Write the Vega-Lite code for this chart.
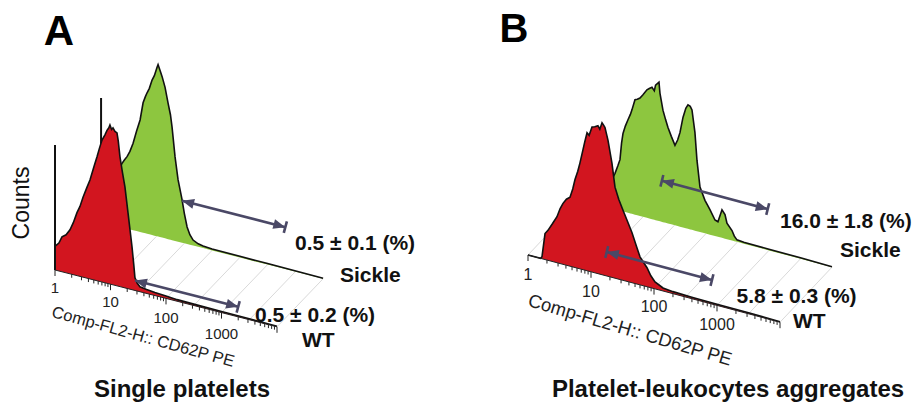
{
  "$schema": "https://vega.github.io/schema/vega-lite/v6.json",
  "padding": 0,
  "spacing": 0,
  "background": "white",
  "config": {"view": {"stroke": null}, "font": "Liberation Sans"},
  "hconcat": [
    {
      "width": 460,
      "height": 405,
      "data": {"values": [
        {"k":"grid","g":0,"L":0,"C":0,"d":0},{"k":"grid","g":0,"L":0,"C":0,"d":1},
        {"k":"grid","g":1,"L":0.5,"C":0,"d":0},{"k":"grid","g":1,"L":0.5,"C":0,"d":1},
        {"k":"grid","g":2,"L":1,"C":0,"d":0},{"k":"grid","g":2,"L":1,"C":0,"d":1},
        {"k":"grid","g":3,"L":1.5,"C":0,"d":0},{"k":"grid","g":3,"L":1.5,"C":0,"d":1},
        {"k":"grid","g":4,"L":2,"C":0,"d":0},{"k":"grid","g":4,"L":2,"C":0,"d":1},
        {"k":"grid","g":5,"L":2.5,"C":0,"d":0},{"k":"grid","g":5,"L":2.5,"C":0,"d":1},
        {"k":"grid","g":6,"L":3,"C":0,"d":0},{"k":"grid","g":6,"L":3,"C":0,"d":1},
        {"k":"grid","g":7,"L":3.5,"C":0,"d":0},{"k":"grid","g":7,"L":3.5,"C":0,"d":1},
        {"k":"grid","g":8,"L":4,"C":0,"d":0},{"k":"grid","g":8,"L":4,"C":0,"d":1},

        {"k":"sk","d":1,"L":0,"C":30},{"k":"sk","d":1,"L":0.15,"C":40},{"k":"sk","d":1,"L":0.3,"C":55},
        {"k":"sk","d":1,"L":0.378,"C":64},{"k":"sk","d":1,"L":0.42,"C":68},{"k":"sk","d":1,"L":0.468,"C":72},
        {"k":"sk","d":1,"L":0.52,"C":78},{"k":"sk","d":1,"L":0.577,"C":87},{"k":"sk","d":1,"L":0.64,"C":100},
        {"k":"sk","d":1,"L":0.703,"C":112},{"k":"sk","d":1,"L":0.757,"C":130},{"k":"sk","d":1,"L":0.8,"C":137},
        {"k":"sk","d":1,"L":0.829,"C":141},{"k":"sk","d":1,"L":0.87,"C":146},{"k":"sk","d":1,"L":0.919,"C":155},
        {"k":"sk","d":1,"L":0.96,"C":160},{"k":"sk","d":1,"L":1.009,"C":169},{"k":"sk","d":1,"L":1.027,"C":172},
        {"k":"sk","d":1,"L":1.06,"C":167},{"k":"sk","d":1,"L":1.1,"C":161},{"k":"sk","d":1,"L":1.153,"C":151},
        {"k":"sk","d":1,"L":1.207,"C":136},{"k":"sk","d":1,"L":1.25,"C":125},{"k":"sk","d":1,"L":1.279,"C":113},
        {"k":"sk","d":1,"L":1.333,"C":84},{"k":"sk","d":1,"L":1.387,"C":62},{"k":"sk","d":1,"L":1.459,"C":43},
        {"k":"sk","d":1,"L":1.5,"C":30},{"k":"sk","d":1,"L":1.55,"C":17},{"k":"sk","d":1,"L":1.6,"C":10},
        {"k":"sk","d":1,"L":1.658,"C":5.5},{"k":"sk","d":1,"L":1.75,"C":3},{"k":"sk","d":1,"L":1.838,"C":2},
        {"k":"sk","d":1,"L":2.0,"C":1.5},{"k":"sk","d":1,"L":2.5,"C":1.2},{"k":"sk","d":1,"L":3.0,"C":1},
        {"k":"sk","d":1,"L":4.0,"C":0.5},

        {"k":"yaxs","d":1,"L":0,"C":0,"C2":124},

        {"k":"wt","d":0,"L":0,"C":25},{"k":"wt","d":0,"L":0.02,"C":25},{"k":"wt","d":0,"L":0.07,"C":28},
        {"k":"wt","d":0,"L":0.126,"C":35},{"k":"wt","d":0,"L":0.2,"C":38},{"k":"wt","d":0,"L":0.27,"C":44},
        {"k":"wt","d":0,"L":0.33,"C":52},{"k":"wt","d":0,"L":0.396,"C":63},{"k":"wt","d":0,"L":0.45,"C":70},
        {"k":"wt","d":0,"L":0.505,"C":80},{"k":"wt","d":0,"L":0.57,"C":90},{"k":"wt","d":0,"L":0.63,"C":99},
        {"k":"wt","d":0,"L":0.7,"C":113},{"k":"wt","d":0,"L":0.757,"C":124},{"k":"wt","d":0,"L":0.8,"C":133},
        {"k":"wt","d":0,"L":0.847,"C":142},{"k":"wt","d":0,"L":0.9,"C":148},{"k":"wt","d":0,"L":0.937,"C":153},
        {"k":"wt","d":0,"L":0.97,"C":156},{"k":"wt","d":0,"L":0.99,"C":159},{"k":"wt","d":0,"L":1.02,"C":155},
        {"k":"wt","d":0,"L":1.045,"C":157},{"k":"wt","d":0,"L":1.08,"C":154},{"k":"wt","d":0,"L":1.117,"C":153},
        {"k":"wt","d":0,"L":1.14,"C":145},{"k":"wt","d":0,"L":1.17,"C":130},{"k":"wt","d":0,"L":1.215,"C":115},
        {"k":"wt","d":0,"L":1.26,"C":101},{"k":"wt","d":0,"L":1.315,"C":76},{"k":"wt","d":0,"L":1.35,"C":60},
        {"k":"wt","d":0,"L":1.387,"C":43},{"k":"wt","d":0,"L":1.42,"C":25},{"k":"wt","d":0,"L":1.44,"C":13},
        {"k":"wt","d":0,"L":1.48,"C":8},{"k":"wt","d":0,"L":1.53,"C":5},{"k":"wt","d":0,"L":1.65,"C":4},
        {"k":"wt","d":0,"L":1.8,"C":3},{"k":"wt","d":0,"L":2.0,"C":2.5},{"k":"wt","d":0,"L":2.2,"C":1.6},
        {"k":"wt","d":0,"L":2.6,"C":1.3},{"k":"wt","d":0,"L":3.0,"C":1.1},{"k":"wt","d":0,"L":3.5,"C":0.9},
        {"k":"wt","d":0,"L":4.0,"C":0.5},

        {"k":"yax","d":0,"L":0,"C":0,"C2":125},
        {"k":"floor","d":0,"L":0,"C":0},{"k":"floor","d":0,"L":4,"C":0},

        {"k":"tick","d":0,"L":0,"C":0,"C2":-6},{"k":"tick","d":0,"L":0.301,"C":0,"C2":-3.5},{"k":"tick","d":0,"L":0.477,"C":0,"C2":-3.5},
        {"k":"tick","d":0,"L":0.602,"C":0,"C2":-3.5},{"k":"tick","d":0,"L":0.699,"C":0,"C2":-3.5},{"k":"tick","d":0,"L":0.778,"C":0,"C2":-3.5},
        {"k":"tick","d":0,"L":0.845,"C":0,"C2":-3.5},{"k":"tick","d":0,"L":0.903,"C":0,"C2":-3.5},{"k":"tick","d":0,"L":0.954,"C":0,"C2":-3.5},
        {"k":"tick","d":0,"L":1,"C":0,"C2":-6},{"k":"tick","d":0,"L":1.301,"C":0,"C2":-3.5},{"k":"tick","d":0,"L":1.477,"C":0,"C2":-3.5},
        {"k":"tick","d":0,"L":1.602,"C":0,"C2":-3.5},{"k":"tick","d":0,"L":1.699,"C":0,"C2":-3.5},{"k":"tick","d":0,"L":1.778,"C":0,"C2":-3.5},
        {"k":"tick","d":0,"L":1.845,"C":0,"C2":-3.5},{"k":"tick","d":0,"L":1.903,"C":0,"C2":-3.5},{"k":"tick","d":0,"L":1.954,"C":0,"C2":-3.5},
        {"k":"tick","d":0,"L":2,"C":0,"C2":-6},{"k":"tick","d":0,"L":2.301,"C":0,"C2":-3.5},{"k":"tick","d":0,"L":2.477,"C":0,"C2":-3.5},
        {"k":"tick","d":0,"L":2.602,"C":0,"C2":-3.5},{"k":"tick","d":0,"L":2.699,"C":0,"C2":-3.5},{"k":"tick","d":0,"L":2.778,"C":0,"C2":-3.5},
        {"k":"tick","d":0,"L":2.845,"C":0,"C2":-3.5},{"k":"tick","d":0,"L":2.903,"C":0,"C2":-3.5},{"k":"tick","d":0,"L":2.954,"C":0,"C2":-3.5},
        {"k":"tick","d":0,"L":3,"C":0,"C2":-6},{"k":"tick","d":0,"L":3.301,"C":0,"C2":-3.5},{"k":"tick","d":0,"L":3.477,"C":0,"C2":-3.5},
        {"k":"tick","d":0,"L":3.602,"C":0,"C2":-3.5},{"k":"tick","d":0,"L":3.699,"C":0,"C2":-3.5},{"k":"tick","d":0,"L":3.778,"C":0,"C2":-3.5},
        {"k":"tick","d":0,"L":3.845,"C":0,"C2":-3.5},{"k":"tick","d":0,"L":3.903,"C":0,"C2":-3.5},{"k":"tick","d":0,"L":3.954,"C":0,"C2":-3.5},
        {"k":"tick","d":0,"L":4,"C":0,"C2":-6},

        {"k":"arr","a":"s","d":1,"L":1.46,"C":42},{"k":"arr","a":"s","d":1,"L":3.32,"C":42},
        {"k":"arr","a":"w","d":0,"L":1.44,"C":10},{"k":"arr","a":"w","d":0,"L":3.30,"C":10},
        {"k":"hl","d":1,"L":1.46,"C":42},{"k":"hr","d":1,"L":3.32,"C":42},{"k":"bar","d":1,"L":3.32,"C":42},
        {"k":"hl","d":0,"L":1.44,"C":10},{"k":"hr","d":0,"L":3.30,"C":10},{"k":"bar","d":0,"L":3.30,"C":10},

        {"k":"tl","d":0,"t":"1","L":0,"C":-18},{"k":"tl","d":0,"t":"10","L":1,"C":-18},
        {"k":"tl","d":0,"t":"100","L":2,"C":-20},{"k":"tl","d":0,"t":"1000","L":3,"C":-21},
        {"k":"ax","d":0,"t":"Comp-FL2-H:: CD62P PE","L":1.586,"C":-44.5},
        {"k":"cnt","d":0,"t":"Counts","L":-0.595,"C":58.6},
        {"k":"lab","d":0,"t":"0.5 ± 0.1 (%)","L":4.324,"C":81.4},
        {"k":"lab","d":0,"t":"Sickle","L":5.135,"C":60.9},
        {"k":"lab","d":0,"t":"0.5 ± 0.2 (%)","L":3.604,"C":-0.8},
        {"k":"lab","d":0,"t":"WT","L":4.45,"C":-13.8},
        {"k":"ttl","d":0,"t":"Single platelets","L":2.288,"C":-94.5},
        {"k":"pan","d":0,"t":"A","L":0.072,"C":226}
      ]},
      "transform": [
        {"calculate": "datum.L+0.83*datum.d", "as": "X"},
        {"calculate": "datum.C-14.2*datum.L+48*datum.d", "as": "Y"},
        {"calculate": "-14.2*datum.L+48*datum.d", "as": "Y0"},
        {"calculate": "datum.C2-14.2*datum.L+48*datum.d", "as": "Y2"}
      ],
      "encoding": {
        "x": {"field": "X", "type": "quantitative", "axis": null, "scale": {"domain": [-0.991, 7.297], "nice": false, "zero": false}},
        "y": {"field": "Y", "type": "quantitative", "axis": null, "scale": {"domain": [-135, 270], "nice": false, "zero": false}}
      },
      "layer": [
        {"transform": [{"filter": "datum.k=='grid'"}], "mark": {"type": "line", "color": "#d9d9d9", "strokeWidth": 1}, "encoding": {"detail": {"field": "g"}}},
        {"transform": [{"filter": "datum.k=='sk'"}], "mark": {"type": "area", "color": "#8dc63f", "opacity": 1, "fillOpacity": 1, "line": {"color": "#111111", "strokeWidth": 1.6}}, "encoding": {"y2": {"field": "Y0"}}},
        {"transform": [{"filter": "datum.k=='yaxs'"}], "mark": {"type": "rule", "color": "#111111", "strokeWidth": 2}, "encoding": {"y2": {"field": "Y2"}}},
        {"transform": [{"filter": "datum.k=='wt'"}], "mark": {"type": "area", "color": "#d2151f", "opacity": 1, "fillOpacity": 1, "line": {"color": "#111111", "strokeWidth": 1.6}}, "encoding": {"y2": {"field": "Y0"}}},
        {"transform": [{"filter": "datum.k=='yax'"}], "mark": {"type": "rule", "color": "#111111", "strokeWidth": 2}, "encoding": {"y2": {"field": "Y2"}}},
        {"transform": [{"filter": "datum.k=='floor'"}], "mark": {"type": "line", "color": "#222222", "strokeWidth": 1}, "encoding": {}},
        {"transform": [{"filter": "datum.k=='tick'"}], "mark": {"type": "rule", "color": "#222222", "strokeWidth": 1}, "encoding": {"y2": {"field": "Y2"}}},
        {"transform": [{"filter": "datum.k=='arr'"}], "mark": {"type": "line", "color": "#4a4866", "strokeWidth": 2.6}, "encoding": {"detail": {"field": "a"}}},
        {"transform": [{"filter": "datum.k=='hl'"}], "mark": {"type": "point", "shape": "M0,0L3,-1.25L3,1.25Z", "size": 64, "angle": 15, "filled": true, "opacity": 1, "color": "#4a4866"}},
        {"transform": [{"filter": "datum.k=='hr'"}], "mark": {"type": "point", "shape": "M0,0L-3,-1.25L-3,1.25Z", "size": 64, "angle": 15, "filled": true, "opacity": 1, "color": "#4a4866"}},
        {"transform": [{"filter": "datum.k=='bar'"}], "mark": {"type": "point", "shape": "M0,-1.5L0,1.5", "size": 64, "angle": 15, "filled": false, "opacity": 1, "strokeWidth": 2.6, "color": "#4a4866"}},
        {"transform": [{"filter": "datum.k=='tl'"}], "mark": {"type": "text", "fontSize": 15, "color": "#222222", "align": "center", "baseline": "middle"}, "encoding": {"text": {"field": "t"}}},
        {"transform": [{"filter": "datum.k=='ax'"}], "mark": {"type": "text", "fontSize": 16.5, "color": "#222222", "align": "center", "baseline": "middle", "angle": 15.5}, "encoding": {"text": {"field": "t"}}},
        {"transform": [{"filter": "datum.k=='cnt'"}], "mark": {"type": "text", "fontSize": 23, "color": "#111111", "align": "center", "baseline": "middle", "angle": 270}, "encoding": {"text": {"field": "t"}}},
        {"transform": [{"filter": "datum.k=='lab'"}], "mark": {"type": "text", "fontSize": 21, "fontWeight": "bold", "color": "#111111", "align": "left", "baseline": "alphabetic"}, "encoding": {"text": {"field": "t"}}},
        {"transform": [{"filter": "datum.k=='ttl'"}], "mark": {"type": "text", "fontSize": 24, "fontWeight": "bold", "color": "#111111", "align": "center", "baseline": "alphabetic"}, "encoding": {"text": {"field": "t"}}},
        {"transform": [{"filter": "datum.k=='pan'"}], "mark": {"type": "text", "fontSize": 42, "fontWeight": "bold", "color": "#000000", "align": "center", "baseline": "alphabetic"}, "encoding": {"text": {"field": "t"}}}
      ]
    },
    {
      "width": 461,
      "height": 405,
      "data": {"values": [
        {"k":"grid","g":0,"L":0,"C":0,"d":0},{"k":"grid","g":0,"L":0,"C":0,"d":1},
        {"k":"grid","g":1,"L":0.5,"C":0,"d":0},{"k":"grid","g":1,"L":0.5,"C":0,"d":1},
        {"k":"grid","g":2,"L":1,"C":0,"d":0},{"k":"grid","g":2,"L":1,"C":0,"d":1},
        {"k":"grid","g":3,"L":1.5,"C":0,"d":0},{"k":"grid","g":3,"L":1.5,"C":0,"d":1},
        {"k":"grid","g":4,"L":2,"C":0,"d":0},{"k":"grid","g":4,"L":2,"C":0,"d":1},
        {"k":"grid","g":5,"L":2.5,"C":0,"d":0},{"k":"grid","g":5,"L":2.5,"C":0,"d":1},
        {"k":"grid","g":6,"L":3,"C":0,"d":0},{"k":"grid","g":6,"L":3,"C":0,"d":1},
        {"k":"grid","g":7,"L":3.5,"C":0,"d":0},{"k":"grid","g":7,"L":3.5,"C":0,"d":1},
        {"k":"grid","g":8,"L":4,"C":0,"d":0},{"k":"grid","g":8,"L":4,"C":0,"d":1},

        {"k":"sk","d":1,"L":0.25,"C":0},{"k":"sk","d":1,"L":0.4,"C":15},{"k":"sk","d":1,"L":0.5,"C":28},
        {"k":"sk","d":1,"L":0.556,"C":36},{"k":"sk","d":1,"L":0.6,"C":44},{"k":"sk","d":1,"L":0.635,"C":51},
        {"k":"sk","d":1,"L":0.66,"C":68},{"k":"sk","d":1,"L":0.683,"C":78},{"k":"sk","d":1,"L":0.72,"C":86},
        {"k":"sk","d":1,"L":0.762,"C":93},{"k":"sk","d":1,"L":0.8,"C":99},{"k":"sk","d":1,"L":0.825,"C":104},
        {"k":"sk","d":1,"L":0.873,"C":115},{"k":"sk","d":1,"L":0.91,"C":116},{"k":"sk","d":1,"L":0.952,"C":118},
        {"k":"sk","d":1,"L":1.0,"C":122},{"k":"sk","d":1,"L":1.063,"C":128},{"k":"sk","d":1,"L":1.1,"C":130},
        {"k":"sk","d":1,"L":1.143,"C":132},{"k":"sk","d":1,"L":1.18,"C":129},{"k":"sk","d":1,"L":1.2,"C":135},
        {"k":"sk","d":1,"L":1.254,"C":139},{"k":"sk","d":1,"L":1.27,"C":128},{"k":"sk","d":1,"L":1.317,"C":112},
        {"k":"sk","d":1,"L":1.36,"C":103},{"k":"sk","d":1,"L":1.397,"C":96},{"k":"sk","d":1,"L":1.45,"C":88},
        {"k":"sk","d":1,"L":1.508,"C":80},{"k":"sk","d":1,"L":1.55,"C":86},{"k":"sk","d":1,"L":1.587,"C":94},
        {"k":"sk","d":1,"L":1.635,"C":110},{"k":"sk","d":1,"L":1.68,"C":120},{"k":"sk","d":1,"L":1.714,"C":124},
        {"k":"sk","d":1,"L":1.75,"C":123},{"k":"sk","d":1,"L":1.778,"C":120},{"k":"sk","d":1,"L":1.825,"C":98},
        {"k":"sk","d":1,"L":1.857,"C":71},{"k":"sk","d":1,"L":1.905,"C":45},{"k":"sk","d":1,"L":1.984,"C":33},
        {"k":"sk","d":1,"L":2.063,"C":25},{"k":"sk","d":1,"L":2.143,"C":16},{"k":"sk","d":1,"L":2.19,"C":15},
        {"k":"sk","d":1,"L":2.254,"C":28},{"k":"sk","d":1,"L":2.302,"C":24},{"k":"sk","d":1,"L":2.333,"C":16},
        {"k":"sk","d":1,"L":2.413,"C":10},{"k":"sk","d":1,"L":2.45,"C":5},{"k":"sk","d":1,"L":2.492,"C":2},
        {"k":"sk","d":1,"L":2.6,"C":1.5},{"k":"sk","d":1,"L":3.0,"C":1.2},{"k":"sk","d":1,"L":3.5,"C":1},
        {"k":"sk","d":1,"L":4.0,"C":0.5},

        {"k":"wt","d":0,"L":0,"C":0},{"k":"wt","d":0,"L":0.2,"C":0},{"k":"wt","d":0,"L":0.222,"C":2},
        {"k":"wt","d":0,"L":0.27,"C":26},{"k":"wt","d":0,"L":0.317,"C":30},{"k":"wt","d":0,"L":0.39,"C":38},
        {"k":"wt","d":0,"L":0.46,"C":46},{"k":"wt","d":0,"L":0.51,"C":55},{"k":"wt","d":0,"L":0.556,"C":61},
        {"k":"wt","d":0,"L":0.61,"C":66},{"k":"wt","d":0,"L":0.667,"C":69},{"k":"wt","d":0,"L":0.71,"C":78},
        {"k":"wt","d":0,"L":0.746,"C":88},{"k":"wt","d":0,"L":0.79,"C":97},{"k":"wt","d":0,"L":0.825,"C":106},
        {"k":"wt","d":0,"L":0.873,"C":120},{"k":"wt","d":0,"L":0.9,"C":128},{"k":"wt","d":0,"L":0.937,"C":138},
        {"k":"wt","d":0,"L":0.97,"C":136},{"k":"wt","d":0,"L":1.016,"C":145},{"k":"wt","d":0,"L":1.06,"C":146},
        {"k":"wt","d":0,"L":1.11,"C":148},{"k":"wt","d":0,"L":1.14,"C":145},{"k":"wt","d":0,"L":1.175,"C":152},
        {"k":"wt","d":0,"L":1.2,"C":150},{"k":"wt","d":0,"L":1.222,"C":148},{"k":"wt","d":0,"L":1.27,"C":136},
        {"k":"wt","d":0,"L":1.333,"C":114},{"k":"wt","d":0,"L":1.381,"C":91},{"k":"wt","d":0,"L":1.44,"C":80},
        {"k":"wt","d":0,"L":1.508,"C":70},{"k":"wt","d":0,"L":1.58,"C":60},{"k":"wt","d":0,"L":1.651,"C":50},
        {"k":"wt","d":0,"L":1.72,"C":38},{"k":"wt","d":0,"L":1.778,"C":28},{"k":"wt","d":0,"L":1.889,"C":19},
        {"k":"wt","d":0,"L":1.95,"C":12},{"k":"wt","d":0,"L":2.016,"C":7},{"k":"wt","d":0,"L":2.143,"C":3},
        {"k":"wt","d":0,"L":2.3,"C":2},{"k":"wt","d":0,"L":2.6,"C":1.5},{"k":"wt","d":0,"L":3.0,"C":1.2},
        {"k":"wt","d":0,"L":3.5,"C":1},{"k":"wt","d":0,"L":4.0,"C":0.5},

        {"k":"floor","d":0,"L":0,"C":0},{"k":"floor","d":0,"L":4,"C":0},

        {"k":"tick","d":0,"L":0,"C":0,"C2":-6},{"k":"tick","d":0,"L":0.301,"C":0,"C2":-3.5},{"k":"tick","d":0,"L":0.477,"C":0,"C2":-3.5},
        {"k":"tick","d":0,"L":0.602,"C":0,"C2":-3.5},{"k":"tick","d":0,"L":0.699,"C":0,"C2":-3.5},{"k":"tick","d":0,"L":0.778,"C":0,"C2":-3.5},
        {"k":"tick","d":0,"L":0.845,"C":0,"C2":-3.5},{"k":"tick","d":0,"L":0.903,"C":0,"C2":-3.5},{"k":"tick","d":0,"L":0.954,"C":0,"C2":-3.5},
        {"k":"tick","d":0,"L":1,"C":0,"C2":-6},{"k":"tick","d":0,"L":1.301,"C":0,"C2":-3.5},{"k":"tick","d":0,"L":1.477,"C":0,"C2":-3.5},
        {"k":"tick","d":0,"L":1.602,"C":0,"C2":-3.5},{"k":"tick","d":0,"L":1.699,"C":0,"C2":-3.5},{"k":"tick","d":0,"L":1.778,"C":0,"C2":-3.5},
        {"k":"tick","d":0,"L":1.845,"C":0,"C2":-3.5},{"k":"tick","d":0,"L":1.903,"C":0,"C2":-3.5},{"k":"tick","d":0,"L":1.954,"C":0,"C2":-3.5},
        {"k":"tick","d":0,"L":2,"C":0,"C2":-6},{"k":"tick","d":0,"L":2.301,"C":0,"C2":-3.5},{"k":"tick","d":0,"L":2.477,"C":0,"C2":-3.5},
        {"k":"tick","d":0,"L":2.602,"C":0,"C2":-3.5},{"k":"tick","d":0,"L":2.699,"C":0,"C2":-3.5},{"k":"tick","d":0,"L":2.778,"C":0,"C2":-3.5},
        {"k":"tick","d":0,"L":2.845,"C":0,"C2":-3.5},{"k":"tick","d":0,"L":2.903,"C":0,"C2":-3.5},{"k":"tick","d":0,"L":2.954,"C":0,"C2":-3.5},
        {"k":"tick","d":0,"L":3,"C":0,"C2":-6},{"k":"tick","d":0,"L":3.301,"C":0,"C2":-3.5},{"k":"tick","d":0,"L":3.477,"C":0,"C2":-3.5},
        {"k":"tick","d":0,"L":3.602,"C":0,"C2":-3.5},{"k":"tick","d":0,"L":3.699,"C":0,"C2":-3.5},{"k":"tick","d":0,"L":3.778,"C":0,"C2":-3.5},
        {"k":"tick","d":0,"L":3.845,"C":0,"C2":-3.5},{"k":"tick","d":0,"L":3.903,"C":0,"C2":-3.5},{"k":"tick","d":0,"L":3.954,"C":0,"C2":-3.5},
        {"k":"tick","d":0,"L":4,"C":0,"C2":-6},

        {"k":"arr","a":"s","d":1,"L":1.30,"C":41},{"k":"arr","a":"s","d":1,"L":2.98,"C":41},
        {"k":"arr","a":"w","d":0,"L":1.25,"C":24},{"k":"arr","a":"w","d":0,"L":2.92,"C":24},
        {"k":"hl","d":1,"L":1.30,"C":41},{"k":"hr","d":1,"L":2.98,"C":41},{"k":"bar","d":1,"L":1.30,"C":41},{"k":"bar","d":1,"L":2.98,"C":41},
        {"k":"hl","d":0,"L":1.25,"C":24},{"k":"hr","d":0,"L":2.92,"C":24},{"k":"bar","d":0,"L":1.25,"C":24},{"k":"bar","d":0,"L":2.92,"C":24},

        {"k":"tl","d":0,"t":"1","L":0,"C":-20},{"k":"tl","d":0,"t":"10","L":1,"C":-20},
        {"k":"tl","d":0,"t":"100","L":2,"C":-18.4},{"k":"tl","d":0,"t":"1000","L":3,"C":-19.6},
        {"k":"ax","d":0,"t":"Comp-FL2-H:: CD62P PE","L":1.619,"C":-47.8},
        {"k":"lab","d":0,"t":"16.0 ± 1.8 (%)","L":4.0,"C":94.2},
        {"k":"lab","d":0,"t":"Sickle","L":4.952,"C":81.2},
        {"k":"lab","d":0,"t":"5.8 ± 0.3 (%)","L":3.31,"C":7.6},
        {"k":"lab","d":0,"t":"WT","L":4.206,"C":-2.3},
        {"k":"ttl","d":0,"t":"Platelet-leukocytes aggregates","L":3.175,"C":-88.7},
        {"k":"pan","d":0,"t":"B","L":-0.222,"C":209.5}
      ]},
      "transform": [
        {"calculate": "datum.L+0.825*datum.d", "as": "X"},
        {"calculate": "datum.C-16.8*datum.L+55*datum.d", "as": "Y"},
        {"calculate": "-16.8*datum.L+55*datum.d", "as": "Y0"},
        {"calculate": "datum.C2-16.8*datum.L+55*datum.d", "as": "Y2"}
      ],
      "encoding": {
        "x": {"field": "X", "type": "quantitative", "axis": null, "scale": {"domain": [-1.0794, 6.2381], "nice": false, "zero": false}},
        "y": {"field": "Y", "type": "quantitative", "axis": null, "scale": {"domain": [-150, 255], "nice": false, "zero": false}}
      },
      "layer": [
        {"transform": [{"filter": "datum.k=='grid'"}], "mark": {"type": "line", "color": "#d9d9d9", "strokeWidth": 1}, "encoding": {"detail": {"field": "g"}}},
        {"transform": [{"filter": "datum.k=='sk'"}], "mark": {"type": "area", "color": "#8dc63f", "opacity": 1, "fillOpacity": 1, "line": {"color": "#111111", "strokeWidth": 1.6}}, "encoding": {"y2": {"field": "Y0"}}},
        {"transform": [{"filter": "datum.k=='wt'"}], "mark": {"type": "area", "color": "#d2151f", "opacity": 1, "fillOpacity": 1, "line": {"color": "#111111", "strokeWidth": 1.6}}, "encoding": {"y2": {"field": "Y0"}}},
        {"transform": [{"filter": "datum.k=='floor'"}], "mark": {"type": "line", "color": "#222222", "strokeWidth": 1}, "encoding": {}},
        {"transform": [{"filter": "datum.k=='tick'"}], "mark": {"type": "rule", "color": "#222222", "strokeWidth": 1}, "encoding": {"y2": {"field": "Y2"}}},
        {"transform": [{"filter": "datum.k=='arr'"}], "mark": {"type": "line", "color": "#4a4866", "strokeWidth": 2.6}, "encoding": {"detail": {"field": "a"}}},
        {"transform": [{"filter": "datum.k=='hl'"}], "mark": {"type": "point", "shape": "M0,0L3,-1.25L3,1.25Z", "size": 64, "angle": 14, "filled": true, "opacity": 1, "color": "#4a4866"}},
        {"transform": [{"filter": "datum.k=='hr'"}], "mark": {"type": "point", "shape": "M0,0L-3,-1.25L-3,1.25Z", "size": 64, "angle": 14, "filled": true, "opacity": 1, "color": "#4a4866"}},
        {"transform": [{"filter": "datum.k=='bar'"}], "mark": {"type": "point", "shape": "M0,-1.5L0,1.5", "size": 64, "angle": 14, "filled": false, "opacity": 1, "strokeWidth": 2.6, "color": "#4a4866"}},
        {"transform": [{"filter": "datum.k=='tl'"}], "mark": {"type": "text", "fontSize": 16, "color": "#222222", "align": "center", "baseline": "middle"}, "encoding": {"text": {"field": "t"}}},
        {"transform": [{"filter": "datum.k=='ax'"}], "mark": {"type": "text", "fontSize": 18.5, "color": "#222222", "align": "center", "baseline": "middle", "angle": 16.5}, "encoding": {"text": {"field": "t"}}},
        {"transform": [{"filter": "datum.k=='lab'"}], "mark": {"type": "text", "fontSize": 21, "fontWeight": "bold", "color": "#111111", "align": "left", "baseline": "alphabetic"}, "encoding": {"text": {"field": "t"}}},
        {"transform": [{"filter": "datum.k=='ttl'"}], "mark": {"type": "text", "fontSize": 24, "fontWeight": "bold", "color": "#111111", "align": "center", "baseline": "alphabetic"}, "encoding": {"text": {"field": "t"}}},
        {"transform": [{"filter": "datum.k=='pan'"}], "mark": {"type": "text", "fontSize": 40, "fontWeight": "bold", "color": "#000000", "align": "center", "baseline": "alphabetic"}, "encoding": {"text": {"field": "t"}}}
      ]
    }
  ]
}
